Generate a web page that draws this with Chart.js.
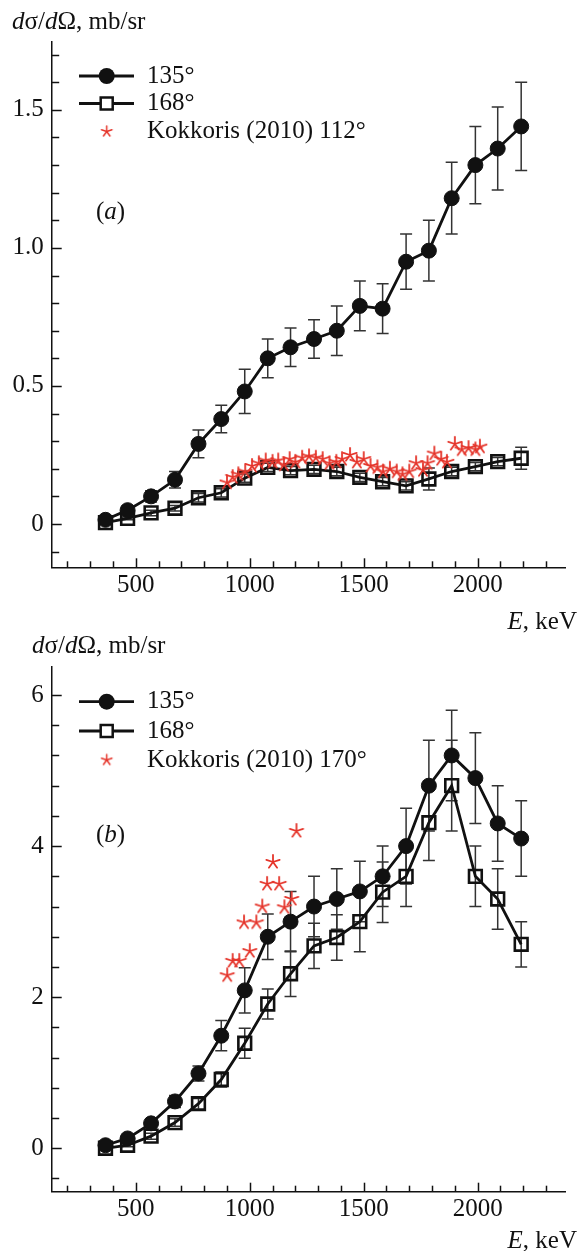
<!DOCTYPE html>
<html>
<head>
<meta charset="utf-8">
<script src="https://cdn.jsdelivr.net/npm/chart.js@4.4.1/dist/chart.umd.min.js"></script>
<style>
  html, body { margin: 0; padding: 0; background: #fff; }
  #wrap { position: relative; width: 577px; height: 1251px; overflow: hidden; }
  canvas { position: absolute; left: 0; }
  #chartA { top: 0; }
  #chartB { top: 600px; }
</style>
</head>
<body>
<div id="wrap">
  <canvas id="chartA" width="577" height="650"></canvas>
  <canvas id="chartB" width="577" height="651"></canvas>
</div>
<script>
// beam energies, keV (same for both angles)
const energies = [367, 464, 567, 672, 775, 875, 978, 1079, 1179, 1282, 1382, 1483, 1583, 1686, 1786, 1886, 1990, 2088, 2191];

// panel (a)
const a135 = [0.015, 0.05, 0.10, 0.16, 0.29, 0.38, 0.48, 0.60, 0.64, 0.67, 0.70, 0.79, 0.78, 0.95, 0.99, 1.18, 1.30, 1.36, 1.44];
const a135err = [0.01, 0.015, 0.02, 0.03, 0.05, 0.05, 0.08, 0.07, 0.07, 0.07, 0.09, 0.09, 0.09, 0.10, 0.11, 0.13, 0.14, 0.15, 0.16];
const a168 = [0.005, 0.02, 0.04, 0.057, 0.095, 0.113, 0.166, 0.205, 0.193, 0.198, 0.19, 0.169, 0.153, 0.138, 0.163, 0.19, 0.208, 0.226, 0.238];
const a168err = [0.005, 0.005, 0.01, 0.01, 0.015, 0.015, 0.015, 0.015, 0.015, 0.015, 0.015, 0.015, 0.015, 0.015, 0.04, 0.015, 0.015, 0.015, 0.04];
const aKokE = [900, 925, 950, 980, 1010, 1040, 1070, 1100, 1125, 1150, 1175, 1200, 1230, 1260, 1290, 1320, 1350, 1380, 1405, 1440, 1470, 1500, 1530, 1560, 1585, 1615, 1645, 1670, 1700, 1730, 1760, 1780, 1810, 1840, 1865, 1900, 1930, 1960, 1990, 2010];
const aKokV = [0.15, 0.17, 0.18, 0.19, 0.21, 0.22, 0.23, 0.225, 0.23, 0.215, 0.235, 0.225, 0.24, 0.245, 0.24, 0.235, 0.22, 0.225, 0.235, 0.25, 0.225, 0.235, 0.21, 0.205, 0.19, 0.2, 0.19, 0.18, 0.19, 0.22, 0.195, 0.22, 0.255, 0.235, 0.225, 0.29, 0.27, 0.275, 0.27, 0.28];

// panel (b)
const b135 = [0.04, 0.13, 0.33, 0.62, 0.99, 1.49, 2.09, 2.80, 3.0, 3.2, 3.3, 3.4, 3.6, 4.0, 4.8, 5.2, 4.9, 4.3, 4.1];
const b135err = [0.02, 0.03, 0.05, 0.08, 0.1, 0.2, 0.3, 0.3, 0.4, 0.4, 0.4, 0.4, 0.4, 0.5, 0.6, 0.6, 0.6, 0.5, 0.5];
const b168 = [0.0, 0.04, 0.16, 0.34, 0.59, 0.91, 1.39, 1.91, 2.31, 2.68, 2.79, 3.0, 3.39, 3.6, 4.31, 4.80, 3.6, 3.30, 2.70];
const b168err = [0.02, 0.02, 0.04, 0.05, 0.07, 0.1, 0.2, 0.2, 0.3, 0.3, 0.3, 0.4, 0.4, 0.4, 0.5, 0.6, 0.4, 0.4, 0.3];
const bKokE = [901, 925, 954, 975, 1000, 1029, 1055, 1076, 1102, 1129, 1152, 1184, 1205];
const bKokV = [2.29, 2.48, 2.48, 2.99, 2.61, 2.99, 3.2, 3.5, 3.79, 3.5, 3.19, 3.30, 4.2];

const FONT = '"Liberation Serif", "Times New Roman", serif';
const INK = '#111';
const RED = '#e5352b';

const pts = (xs, ys) => xs.map((x, i) => ({ x: x, y: ys[i] }));

// 5-armed asterisk like the one in the paper
function starImage(r, color, lw) {
  const s = Math.ceil(r * 2 + 4);
  const c = document.createElement('canvas');
  c.width = s; c.height = s;
  const g = c.getContext('2d');
  g.strokeStyle = color;
  g.lineWidth = lw;
  g.lineCap = 'round';
  for (let i = 0; i < 5; i++) {
    const a = -Math.PI / 2 + i * 2 * Math.PI / 5;
    g.beginPath();
    g.moveTo(s / 2, s / 2);
    g.lineTo(s / 2 + r * Math.cos(a), s / 2 + r * Math.sin(a));
    g.stroke();
  }
  return c;
}
const star = starImage(7, RED, 1.8);
const starSmall = starImage(5.5, RED, 1.5);

function mixedText(ctx, parts, x, y, align) {
  ctx.textBaseline = 'middle';
  ctx.textAlign = 'left';
  const widths = parts.map(([t, it]) => {
    ctx.font = (it ? 'italic ' : '') + '25px ' + FONT;
    return ctx.measureText(t).width;
  });
  let cx = align === 'right' ? x - widths.reduce((a, b) => a + b, 0) : x;
  parts.forEach(([t, it], i) => {
    ctx.font = (it ? 'italic ' : '') + '25px ' + FONT;
    ctx.fillText(t, cx, y);
    cx += widths[i];
  });
}

const decor = {
  id: 'decor',
  beforeDatasetsDraw(chart) {
    const ctx = chart.ctx, xs = chart.scales.x, ys = chart.scales.y;
    ctx.save();
    ctx.strokeStyle = '#333';
    ctx.lineWidth = 1.5;
    chart.data.datasets.forEach(ds => {
      if (!ds.errors) return;
      ds.data.forEach((p, j) => {
        const e = ds.errors[j];
        const x = xs.getPixelForValue(p.x);
        const y1 = ys.getPixelForValue(p.y - e);
        const y2 = ys.getPixelForValue(p.y + e);
        ctx.beginPath();
        ctx.moveTo(x, y1); ctx.lineTo(x, y2);
        ctx.moveTo(x - 6, y1); ctx.lineTo(x + 6, y1);
        ctx.moveTo(x - 6, y2); ctx.lineTo(x + 6, y2);
        ctx.stroke();
      });
    });
    ctx.restore();
  },
  afterDraw(chart, args, opts) {
    const ctx = chart.ctx, xs = chart.scales.x, ys = chart.scales.y, ca = chart.chartArea;
    ctx.save();
    // inward tick marks
    ctx.strokeStyle = INK;
    ctx.lineWidth = 1.5;
    ys.ticks.forEach(t => {
      const y = Math.round(ys.getPixelForValue(t.value)) + 0.5;
      const len = t.label !== '' ? 10 : 7.5;
      ctx.beginPath(); ctx.moveTo(ca.left, y); ctx.lineTo(ca.left + len, y); ctx.stroke();
    });
    xs.ticks.forEach(t => {
      const x = Math.round(xs.getPixelForValue(t.value)) + 0.5;
      const len = t.label !== '' ? 9 : 6;
      ctx.beginPath(); ctx.moveTo(x, ca.bottom); ctx.lineTo(x, ca.bottom - len); ctx.stroke();
    });

    ctx.fillStyle = INK;
    mixedText(ctx, [['d', true], ['σ/', false], ['d', true], ['Ω, mb/sr', false]], opts.yTitleX, opts.yTitleY, 'left');
    mixedText(ctx, [['E', true], [', keV', false]], 577, opts.xTitleY, 'right');
    mixedText(ctx, [['(', false], [opts.panel, true], [')', false]], 96, opts.panelY, 'left');

    // legend: line with marker for the two series, star for Kokkoris
    const lx = 106.7, rows = opts.legendY;
    ctx.strokeStyle = INK;
    ctx.lineWidth = 2.8;
    [0, 1].forEach(i => {
      ctx.beginPath(); ctx.moveTo(79, rows[i]); ctx.lineTo(134, rows[i]); ctx.stroke();
    });
    ctx.beginPath(); ctx.arc(lx, rows[0], 8, 0, Math.PI * 2); ctx.fillStyle = INK; ctx.fill();
    ctx.fillStyle = '#fff';
    ctx.fillRect(lx - 6, rows[1] - 6, 12, 12);
    ctx.lineWidth = 2.5;
    ctx.strokeRect(lx - 6, rows[1] - 6, 12, 12);
    ctx.drawImage(starSmall, lx - starSmall.width / 2, rows[2] - starSmall.height / 2);
    ctx.fillStyle = INK;
    const labels = chart.data.datasets.map(d => d.label);
    labels.forEach((t, i) => mixedText(ctx, [[t, false]], 147, rows[i], 'left'));
    ctx.restore();
  }
};

function makePanel(id, cfg) {
  return new Chart(document.getElementById(id), {
    type: 'line',
    data: {
      datasets: [
        {
          label: '135°', data: pts(energies, cfg.v135), errors: cfg.e135,
          borderColor: INK, borderWidth: 2.8, tension: 0,
          pointStyle: 'circle', pointRadius: 7.5,
          pointBackgroundColor: INK, pointBorderColor: INK, pointBorderWidth: 1,
          order: 2
        },
        {
          label: '168°', data: pts(energies, cfg.v168), errors: cfg.e168,
          borderColor: INK, borderWidth: 2.8, tension: 0,
          pointStyle: 'rect', pointRadius: 9,
          pointBackgroundColor: 'rgba(255,255,255,0)', pointBorderColor: INK, pointBorderWidth: 2.6,
          order: 3
        },
        {
          label: cfg.kokLabel, data: pts(cfg.kokE, cfg.kokV),
          showLine: false, pointStyle: star, pointRadius: 7,
          order: 1
        }
      ]
    },
    options: {
      responsive: false,
      animation: false,
      events: [],
      layout: { padding: { top: cfg.plotTop, left: 0, right: 0, bottom: 0 } },
      plugins: {
        legend: { display: false },
        tooltip: { enabled: false },
        decor: cfg.decor
      },
      scales: {
        x: {
          type: 'linear', min: 131, max: 2385,
          border: { display: true, color: INK, width: 1.5 },
          grid: { display: false, drawTicks: false },
          ticks: {
            stepSize: 100, autoSkip: false, maxRotation: 0, includeBounds: false,
            padding: 3, color: INK, font: { family: FONT, size: 25 },
            callback: v => (v % 500 === 0 ? String(v) : '')
          },
          afterFit: s => { s.height = cfg.canvasH - cfg.plotBottom; }
        },
        y: {
          type: 'linear', min: cfg.yMin, max: cfg.yMax,
          border: { display: true, color: INK, width: 1.5 },
          grid: { display: false, drawTicks: false },
          ticks: {
            stepSize: cfg.yStep, autoSkip: false, includeBounds: false,
            padding: 8, color: INK, font: { family: FONT, size: 25 },
            callback: cfg.yLabel
          },
          afterFit: s => { s.width = 51.7; }
        }
      }
    },
    plugins: [decor]
  });
}

makePanel('chartA', {
  v135: a135, e135: a135err, v168: a168, e168: a168err,
  kokE: aKokE, kokV: aKokV, kokLabel: 'Kokkoris (2010) 112°',
  yMin: -0.157, yMax: 1.747, yStep: 0.1,
  yLabel: v => {
    const k = Math.round(v * 10);
    if (Math.abs(v * 10 - k) > 1e-6 || k % 5 !== 0) return '';
    return k === 0 ? '0' : (k / 10).toFixed(1);
  },
  plotTop: 41.7, plotBottom: 567.3, canvasH: 650,
  decor: { panel: 'a', yTitleX: 12, yTitleY: 22, xTitleY: 622, panelY: 212, legendY: [76, 103.5, 131.5] }
});

makePanel('chartB', {
  v135: b135, e135: b135err, v168: b168, e168: b168err,
  kokE: bKokE, kokV: bKokV, kokLabel: 'Kokkoris (2010) 170°',
  yMin: -0.575, yMax: 6.375, yStep: 0.4,
  yLabel: v => {
    const k = Math.round(v * 10);
    if (Math.abs(v * 10 - k) > 1e-6 || k % 20 !== 0) return '';
    return String(k / 10);
  },
  plotTop: 66.7, plotBottom: 591.7, canvasH: 651,
  decor: { panel: 'b', yTitleX: 32, yTitleY: 46.7, xTitleY: 641.5, panelY: 235, legendY: [101.7, 131, 160] }
});
</script>
</body>
</html>
